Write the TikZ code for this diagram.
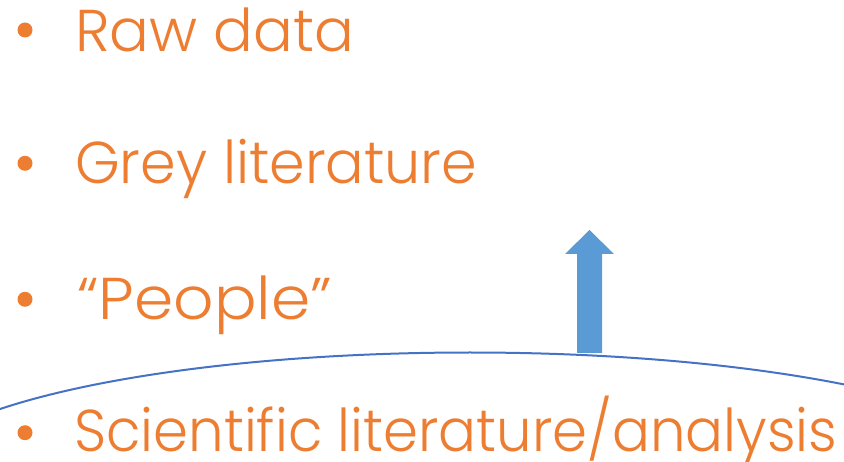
\documentclass[tikz,border=0pt]{standalone}
\usepackage{fontspec}
\setmainfont{Poppins}[UprightFont=* Light]
\definecolor{txtorange}{HTML}{ED7D31}
\definecolor{ellblue}{HTML}{4472C4}
\definecolor{arrblue}{HTML}{5B9BD5}
\tikzset{
  item/.style={anchor=base west, inner sep=0pt, text=txtorange, font=\fontsize{59}{59}\selectfont},
  dot/.style={circle, fill=txtorange, minimum size=15pt, inner sep=0pt},
}
\newcommand{\fitw}[2]{\resizebox{#1}{\height}{#2}}
\begin{document}
\begin{tikzpicture}[x=1pt,y=-1pt]
\useasboundingbox (0,0) rectangle (844,462);
\begin{scope}
\clip (0,0) rectangle (844,462);
\draw[ellblue, line width=2pt] (470,481.5) ellipse [x radius=568, y radius=129];
\end{scope}
\fill[arrblue] (577,353) -- (577,254) -- (565,254) -- (589.5,230) -- (614,254) -- (602,254) -- (602,353) -- cycle;
\node[dot] (b1) at (25,30) {};
\node[dot] (b2) at (25,163.3) {};
\node[dot] (b3) at (25,299.3) {};
\node[dot] (b4) at (25,432.7) {};
\node[item] (t1) at (75,51.7) {\fitw{279pt}{Raw data}};
\node[item] (t2) at (75,184) {\fitw{402pt}{Grey literature}};
\node[item] (t3) at (77,320) {\fitw{255pt}{“People”}};
\node[item] (t4) at (74,451) {\fitw{763pt}{Scientific literature/analysis}};
\end{tikzpicture}
\end{document}
